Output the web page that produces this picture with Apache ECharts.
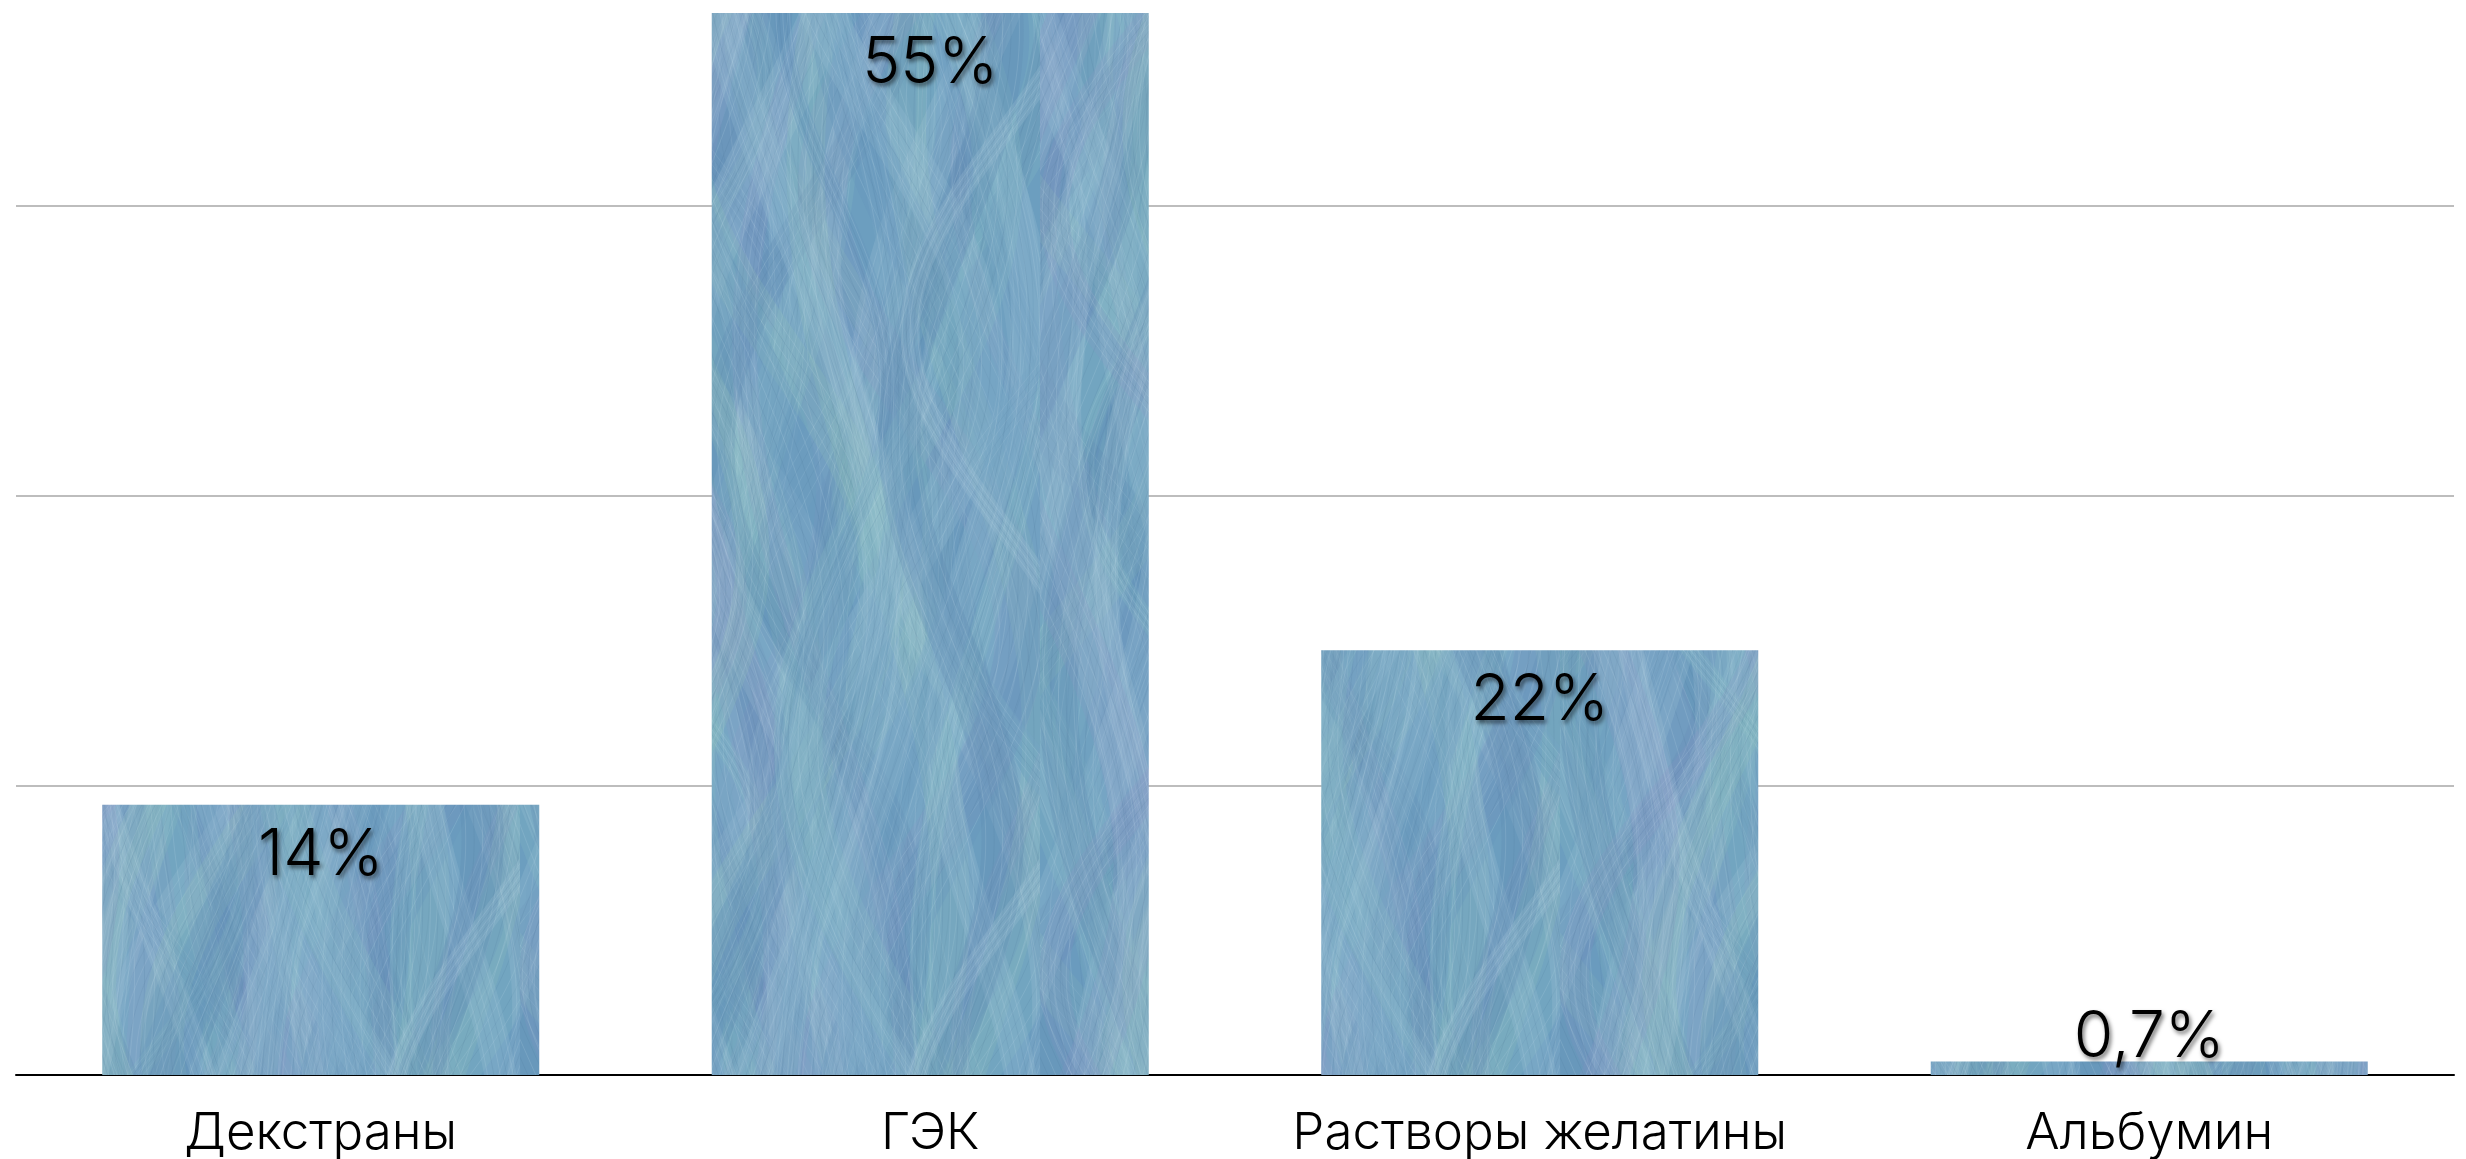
<!DOCTYPE html>
<html>
<head>
<meta charset="utf-8">
<script src="https://cdn.jsdelivr.net/npm/echarts@6/dist/echarts.min.js"></script>
<style>
  html, body { margin: 0; padding: 0; background: #ffffff; }
  #chart { width: 2466px; height: 1159px; }
</style>
</head>
<body>
<div id="chart"></div>
<script>
// Доля коллоидных растворов
const categories = ['Декстраны', 'ГЭК', 'Растворы желатины', 'Альбумин'];
const values = [14, 55, 22, 0.7];
const valueLabels = ['14%', '55%', '22%', '0,7%'];

const FONT = 'Inter, "Helvetica Neue", "Liberation Sans", Arial, sans-serif';

// Painted-brush texture for the bar fill (deterministic strokes)
function makeBrushTexture() {
  const W = 520, H = 1100;
  const c = document.createElement('canvas');
  c.width = W; c.height = H;
  const g = c.getContext('2d');
  g.fillStyle = '#6c9ebf';
  g.fillRect(0, 0, W, H);
  const palette = [
    'rgba(150,192,212,0.28)', 'rgba(118,165,196,0.32)', 'rgba(140,195,198,0.20)',
    'rgba(92,138,176,0.28)', 'rgba(168,202,218,0.22)', 'rgba(140,150,196,0.16)',
    'rgba(158,205,188,0.16)', 'rgba(100,148,186,0.28)'
  ];
  for (let i = 0; i < 70; i++) {
    const x0 = (i * 53) % W;
    const amp = 40 + 60 * Math.abs(Math.sin(i * 1.31));
    const ph = i * 0.77;
    const w = 16 + 34 * Math.abs(Math.sin(i * 2.17));
    const per = 180 + 60 * Math.sin(i);
    g.strokeStyle = palette[i % palette.length];
    g.lineWidth = w;
    g.lineCap = 'round';
    g.beginPath();
    for (let y = -20; y <= H + 20; y += 10) {
      const x = x0 + amp * Math.sin(y / per + ph);
      if (y === -20) g.moveTo(x, y); else g.lineTo(x, y);
    }
    g.stroke();
    // fine ridges along the stroke
    g.lineWidth = 1;
    for (let k = -2; k <= 2; k++) {
      g.strokeStyle = k % 2 === 0 ? 'rgba(200,225,235,0.16)' : 'rgba(70,115,150,0.14)';
      g.beginPath();
      for (let y = -20; y <= H + 20; y += 10) {
        const x = x0 + k * w / 5 + amp * Math.sin(y / per + ph);
        if (y === -20) g.moveTo(x, y); else g.lineTo(x, y);
      }
      g.stroke();
    }
  }
  return c;
}

const texture = makeBrushTexture();

const barData = values.map((v, i) => {
  const small = v < 3;
  return {
    value: v,
    label: {
      position: small ? 'top' : 'insideTop',
      distance: small ? -8 : 19,
      formatter: valueLabels[i]
    }
  };
});

const chart = echarts.init(document.getElementById('chart'), null, { renderer: 'canvas' });
chart.setOption({
  animation: false,
  backgroundColor: '#ffffff',
  grid: { left: 16, right: 12, top: 13, bottom: 84, containLabel: false },
  xAxis: {
    type: 'category',
    data: categories,
    axisLine: { show: true, lineStyle: { color: '#000000', width: 2 } },
    axisTick: { show: false },
    axisLabel: {
      interval: 0,
      hideOverlap: false,
      color: '#000000',
      fontFamily: FONT,
      fontWeight: 300,
      fontSize: 51,
      margin: 33
    },
    splitLine: { show: false }
  },
  yAxis: {
    type: 'value',
    min: 0,
    max: 55,
    interval: 15,
    axisLine: { show: false },
    axisTick: { show: false },
    axisLabel: { show: false },
    splitLine: {
      show: true,
      showMinLine: false,
      showMaxLine: false,
      lineStyle: { color: '#bdbdbd', width: 2 }
    }
  },
  series: [{
    type: 'bar',
    data: barData,
    barWidth: 437,
    itemStyle: { color: { image: texture, repeat: 'repeat' } },
    label: {
      show: true,
      color: '#000000',
      fontFamily: FONT,
      fontWeight: 300,
      fontSize: 64,
      lineHeight: 64,
      textShadowColor: 'rgba(0,0,0,0.55)',
      textShadowBlur: 4,
      textShadowOffsetX: 2,
      textShadowOffsetY: 3
    }
  }]
});
</script>
</body>
</html>
